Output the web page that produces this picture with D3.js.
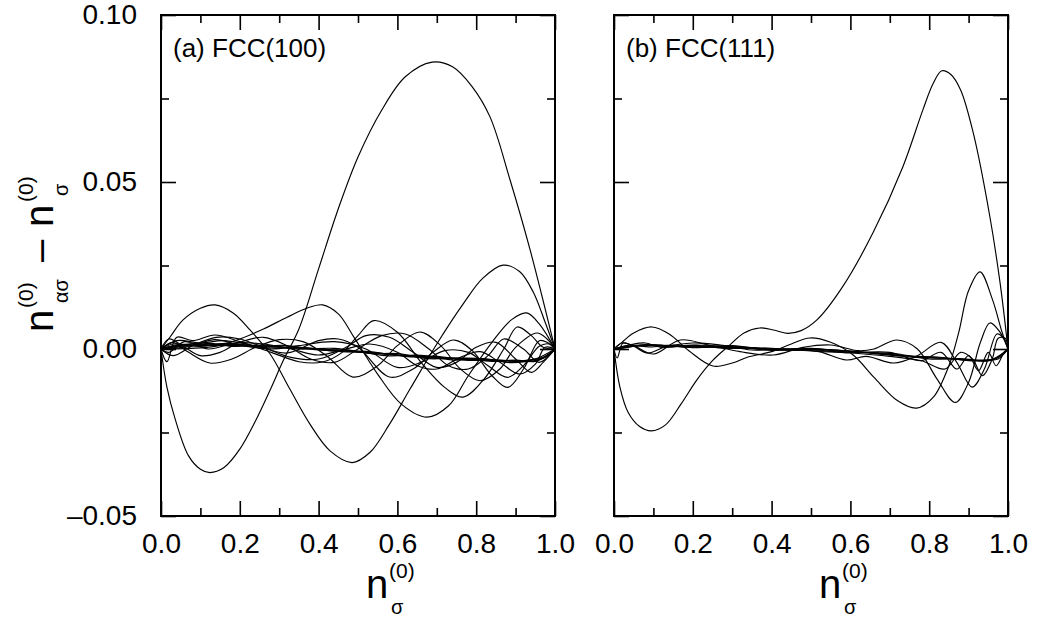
<!DOCTYPE html>
<html>
<head>
<meta charset="utf-8">
<script src="https://cdn.jsdelivr.net/npm/d3@7"></script>
<style>
body { margin: 0; background: #fff; }
svg { display: block; }
text { font-family: "Liberation Sans", Arial, sans-serif; fill: #000; }
</style>
</head>
<body>
<svg id="chart" width="1037" height="621"></svg>
<script>
// ticks
const xMajor = [0, 0.2, 0.4, 0.6, 0.8, 1.0];
const xMinor = [0.1, 0.3, 0.5, 0.7, 0.9];
const xTickLabels = ["0.0", "0.2", "0.4", "0.6", "0.8", "1.0"];
const yMajor = [-0.05, 0, 0.05, 0.10];
const yMinor = [-0.025, 0.025, 0.075];
const yTickLabels = ["\u20130.05", "0.00", "0.05", "0.10"];
const panelTitles = ["(a) FCC(100)", "(b) FCC(111)"];

// (a) FCC(100): [n, deviation] pairs
const a1 = [[0,0],[0.015,-0.0114],[0.036,-0.021],[0.07,-0.032],[0.1,-0.036],[0.124,-0.037],[0.16,-0.0355],[0.2,-0.03],[0.24,-0.0215],[0.28,-0.0115],[0.31,-0.0035],[0.35,0.006],[0.4,0.024],[0.45,0.042],[0.5,0.0575],[0.56,0.0715],[0.62,0.0815],[0.688,0.0859],[0.74,0.0845],[0.79,0.0785],[0.835,0.0695],[0.886,0.0506],[0.937,0.0296],[1,0]];
const a2 = [[0,0],[0.023,0.0036],[0.056,0.0087],[0.1,0.0122],[0.137,0.0132],[0.183,0.0108],[0.226,0.0057],[0.277,-0.0015],[0.327,-0.012],[0.378,-0.0225],[0.429,-0.0305],[0.485,-0.034],[0.53,-0.031],[0.58,-0.0225],[0.632,-0.012],[0.7,0.0015],[0.767,0.0135],[0.817,0.0212],[0.868,0.0251],[0.91,0.0232],[0.945,0.017],[0.975,0.008],[1,0]];
const a3 = [[0,0],[0.07,0.0002],[0.137,0.0008],[0.2,0.003],[0.26,0.006],[0.32,0.0095],[0.37,0.0122],[0.41,0.0132],[0.45,0.0105],[0.49,0.0035],[0.548,-0.0072],[0.61,-0.0165],[0.675,-0.0204],[0.73,-0.017],[0.78,-0.008],[0.84,0.002],[0.89,0.0088],[0.928,0.0108],[0.96,0.0075],[1,0]];
const a4 = [[0,0],[0.015,-0.0038],[0.04,0.0035],[0.08,0.0025],[0.137,0.0042],[0.2,0.0022],[0.28,-0.001],[0.35,-0.0038],[0.41,-0.0039],[0.46,-0.001],[0.5,0.004],[0.54,0.0085],[0.6,0.005],[0.66,-0.004],[0.72,-0.0115],[0.767,-0.0144],[0.82,-0.009],[0.87,0.0],[0.904,0.0066],[0.94,0.004],[0.97,0.0005],[1,0]];
const a5 = [[0,0],[0.03,0.002],[0.07,-0.001],[0.124,-0.0042],[0.18,-0.003],[0.24,0.0005],[0.3,0.0028],[0.36,0.0022],[0.42,-0.002],[0.487,-0.0084],[0.55,-0.005],[0.6,0.001],[0.657,0.0051],[0.71,0.001],[0.76,-0.006],[0.81,-0.0095],[0.86,-0.006],[0.9,0.0005],[0.954,0.0048],[0.98,0.003],[1,0]];
const a6 = [[0,0],[0.04,0.0025],[0.1,0.0018],[0.16,0.0025],[0.25,0.0006],[0.32,-0.0012],[0.4,0.0025],[0.45,0.003],[0.5,0.0005],[0.58,-0.0084],[0.64,-0.006],[0.69,-0.001],[0.742,0.0027],[0.79,-0.0005],[0.84,-0.008],[0.88,-0.0115],[0.92,-0.006],[0.96,0.0025],[0.98,0.002],[1,0]];
const a7 = [[0,0],[0.03,0.0015],[0.08,0.0012],[0.137,0.0028],[0.2,0.0012],[0.28,0.0],[0.35,0.001],[0.44,0.0022],[0.52,0.0],[0.6,-0.0055],[0.66,-0.004],[0.72,-0.0005],[0.78,-0.001],[0.83,-0.005],[0.88,-0.0085],[0.92,-0.005],[0.96,0.0008],[0.985,0.0015],[1,0]];
const a8 = [[0,0],[0.02,-0.001],[0.06,0.0022],[0.12,0.0],[0.19,0.0018],[0.26,0.0015],[0.33,0.0],[0.4,-0.0018],[0.47,0.0],[0.53,0.0015],[0.6,-0.001],[0.65,-0.005],[0.7,-0.006],[0.76,-0.0025],[0.81,-0.0008],[0.86,-0.004],[0.91,-0.0075],[0.95,-0.0045],[0.975,0.0005],[1,0]];
const a9 = [[0,0],[0.02,0.003],[0.06,0.0005],[0.1,-0.002],[0.15,-0.001],[0.2,0.002],[0.26,0.0035],[0.32,0.001],[0.38,-0.003],[0.44,-0.004],[0.5,0.0],[0.56,0.004],[0.62,0.0045],[0.68,0.0],[0.73,-0.005],[0.78,-0.006],[0.83,-0.002],[0.87,0.003],[0.92,0.0],[0.96,-0.004],[1,0]];
const a10 = [[0,0],[0.03,-0.002],[0.08,0.001],[0.14,0.0035],[0.2,0.003],[0.26,0.0005],[0.33,-0.0025],[0.4,-0.003],[0.47,0.0005],[0.52,0.004],[0.58,0.0035],[0.64,-0.001],[0.7,-0.0055],[0.75,-0.004],[0.8,0.0005],[0.85,0.002],[0.9,-0.003],[0.94,-0.007],[0.97,-0.004],[1,0]];
const a11 = [[0,0],[0.05,0.0008],[0.1,0.0012],[0.15,0.0013],[0.2,0.0011],[0.3,0.0006],[0.4,0.0],[0.5,-0.0009],[0.6,-0.0018],[0.7,-0.0025],[0.8,-0.0031],[0.9,-0.0036],[0.95,-0.0035],[0.98,-0.002],[1,0]];
const a12 = [[0,0],[0.04,0.0012],[0.1,0.0008],[0.16,0.0016],[0.24,0.0009],[0.32,0.0009],[0.42,-0.0004],[0.52,-0.0007],[0.62,-0.0021],[0.7,-0.0022],[0.78,-0.0034],[0.86,-0.0033],[0.93,-0.0038],[0.97,-0.0028],[1,0]];
const a13 = [[0,0],[0.03,0.0005],[0.08,0.0016],[0.14,0.001],[0.2,0.0014],[0.28,0.0003],[0.36,0.0004],[0.45,-0.0007],[0.55,-0.0012],[0.64,-0.0024],[0.72,-0.0028],[0.8,-0.0028],[0.88,-0.0039],[0.94,-0.0032],[0.98,-0.0022],[1,0]];
const a14 = [[0,0],[0.05,0.0004],[0.12,0.0017],[0.18,0.0008],[0.26,0.0012],[0.35,0.0],[0.44,0.0002],[0.53,-0.0013],[0.6,-0.0014],[0.68,-0.0029],[0.76,-0.0027],[0.84,-0.0037],[0.9,-0.0033],[0.95,-0.0037],[0.985,-0.0015],[1,0]];
const a15 = [[0,0],[0.06,0.0014],[0.11,0.0009],[0.17,0.0018],[0.23,0.0006],[0.31,0.0011],[0.39,-0.0002],[0.48,-0.0004],[0.57,-0.002],[0.66,-0.0019],[0.74,-0.0033],[0.82,-0.0029],[0.89,-0.0041],[0.95,-0.003],[1,0]];
const a16 = [[0,0],[0.05,0.0009],[0.13,0.0011],[0.22,0.0009],[0.34,0.0003],[0.46,-0.0005],[0.58,-0.0016],[0.7,-0.0027],[0.82,-0.0032],[0.92,-0.0035],[0.97,-0.0025],[1,0]];

// (b) FCC(111)
const b1 = [[0,0],[0.015,-0.0114],[0.036,-0.019],[0.065,-0.0232],[0.095,-0.0245],[0.13,-0.0228],[0.17,-0.0165],[0.21,-0.0093],[0.25,-0.0035],[0.29,0.0008],[0.33,0.0048],[0.37,0.0063],[0.405,0.0057],[0.44,0.0047],[0.475,0.0055],[0.515,0.0087],[0.58,0.0186],[0.657,0.0347],[0.733,0.0545],[0.784,0.0716],[0.81,0.0795],[0.832,0.0833],[0.855,0.0822],[0.88,0.0775],[0.912,0.0646],[0.954,0.0396],[0.98,0.0197],[1,0]];
const b2 = [[0,0],[0.02,0.002],[0.05,0.0048],[0.096,0.0066],[0.14,0.0045],[0.19,-0.0005],[0.251,-0.0051],[0.3,-0.0042],[0.34,-0.0024],[0.4,-0.0008],[0.45,0.0015],[0.497,0.0033],[0.55,0.002],[0.607,-0.0018],[0.66,-0.0085],[0.72,-0.0155],[0.768,-0.0177],[0.81,-0.0145],[0.85,-0.005],[0.875,0.005],[0.9,0.0175],[0.929,0.0231],[0.96,0.015],[0.985,0.005],[1,0]];
const b3 = [[0,0],[0.02,0.0018],[0.05,0.001],[0.1,-0.0015],[0.168,0.0027],[0.24,0.0012],[0.32,-0.0008],[0.404,-0.0018],[0.48,0.0005],[0.55,0.0012],[0.62,-0.0005],[0.66,0.0],[0.718,0.0027],[0.77,0.0],[0.82,-0.009],[0.866,-0.016],[0.9,-0.01],[0.93,0.002],[0.954,0.0078],[0.98,0.005],[1,0]];
const b4 = [[0,0],[0.008,-0.0027],[0.023,0.0018],[0.05,0.0008],[0.086,-0.0012],[0.13,0.0006],[0.2,0.0018],[0.27,0.0012],[0.35,-0.0003],[0.44,0.0],[0.52,-0.0008],[0.59,-0.0033],[0.64,-0.0022],[0.71,-0.0042],[0.77,-0.002],[0.83,0.002],[0.87,-0.004],[0.909,-0.0114],[0.94,-0.006],[0.972,0.0045],[0.99,0.003],[1,0]];
const b5 = [[0,0],[0.04,0.0012],[0.079,0.0018],[0.12,0.0005],[0.2,0.0012],[0.3,0.0006],[0.4,0.0002],[0.5,-0.0006],[0.6,-0.0012],[0.7,-0.0022],[0.78,-0.0035],[0.84,-0.006],[0.88,-0.001],[0.91,-0.003],[0.935,-0.008],[0.96,-0.003],[0.975,0.0032],[0.993,0.0032],[1,0]];
const b6 = [[0,0],[0.03,0.0008],[0.1,0.0012],[0.2,0.0005],[0.3,0.001],[0.4,-0.0004],[0.5,0.0002],[0.6,-0.001],[0.7,-0.001],[0.78,-0.0035],[0.83,-0.001],[0.87,-0.006],[0.9,-0.002],[0.925,-0.0065],[0.95,-0.001],[0.97,-0.005],[0.99,-0.001],[1,0]];
const b7 = [[0,0],[0.05,0.0008],[0.1,0.001],[0.2,0.0008],[0.3,0.0004],[0.4,0.0],[0.5,-0.0002],[0.6,-0.0006],[0.7,-0.0016],[0.8,-0.0026],[0.9,-0.0032],[0.95,-0.0033],[0.975,-0.003],[1,0]];
const b8 = [[0,0],[0.04,0.0012],[0.09,0.0006],[0.15,0.0012],[0.22,0.0005],[0.3,0.0007],[0.38,-0.0002],[0.47,0.0001],[0.56,-0.0008],[0.66,-0.0012],[0.75,-0.0024],[0.84,-0.0027],[0.92,-0.0036],[0.97,-0.0028],[1,0]];
const b9 = [[0,0],[0.03,0.0004],[0.08,0.0013],[0.14,0.0007],[0.21,0.0011],[0.28,0.0002],[0.36,0.0002],[0.45,-0.0004],[0.54,-0.0002],[0.63,-0.001],[0.72,-0.0015],[0.8,-0.003],[0.88,-0.0029],[0.95,-0.0036],[0.98,-0.0022],[1,0]];
const b10 = [[0,0],[0.06,0.001],[0.12,0.0012],[0.2,0.0004],[0.3,0.0008],[0.42,-0.0003],[0.52,0.0],[0.62,-0.0009],[0.72,-0.002],[0.82,-0.0024],[0.9,-0.0034],[0.96,-0.0031],[1,0]];

const fcc100 = [a1, a2, a3, a4, a5, a6, a7, a8, a9, a10, a11, a12, a13, a14, a15, a16];
const fcc111 = [b1, b2, b3, b4, b5, b6, b7, b8, b9, b10];

const svg = d3.select("#chart");
const yTop = 15, yBottom = 516, panelW = 394;
const panelLeft = [161, 614];

const y = d3.scaleLinear().domain([-0.05, 0.10]).range([yBottom, yTop]);

function drawPanel(x0, curves, title, withLabels) {
    const x = d3.scaleLinear().domain([0, 1]).range([x0, x0 + panelW]);
    const g = svg.append("g");

    const line = d3.line()
        .x(d => x(d[0]))
        .y(d => y(d[1]))
        .curve(d3.curveCatmullRom.alpha(0.5));

    g.selectAll("path.curve")
        .data(curves)
        .enter().append("path")
        .attr("class", "curve")
        .attr("d", line)
        .attr("fill", "none")
        .attr("stroke", "#000")
        .attr("stroke-width", 1.15);

    // ticks point inward on all four sides
    const addAxis = (axis, tx, ty) => {
        const a = g.append("g").attr("transform", `translate(${tx},${ty})`).call(axis);
        a.select(".domain").remove();
        a.selectAll("line").attr("stroke", "#000").attr("stroke-width", 1.6);
        a.attr("font-family", null).attr("font-size", 28);
        return a;
    };
    addAxis(d3.axisBottom(x).tickValues(xMajor).tickSizeInner(-15).tickSizeOuter(0).tickPadding(17)
        .tickFormat((d, i) => xTickLabels[i]), 0, yBottom);
    addAxis(d3.axisBottom(x).tickValues(xMinor).tickSizeInner(-8).tickSizeOuter(0).tickFormat(""), 0, yBottom);
    addAxis(d3.axisTop(x).tickValues(xMajor).tickSizeInner(-15).tickSizeOuter(0).tickFormat(""), 0, yTop);
    addAxis(d3.axisTop(x).tickValues(xMinor).tickSizeInner(-8).tickSizeOuter(0).tickFormat(""), 0, yTop);
    addAxis(d3.axisLeft(y).tickValues(yMajor).tickSizeInner(-15).tickSizeOuter(0).tickPadding(24)
        .tickFormat((d, i) => withLabels ? yTickLabels[i] : ""), x0, 0);
    addAxis(d3.axisLeft(y).tickValues(yMinor).tickSizeInner(-8).tickSizeOuter(0).tickFormat(""), x0, 0);
    addAxis(d3.axisRight(y).tickValues(yMajor).tickSizeInner(-15).tickSizeOuter(0).tickFormat(""), x0 + panelW, 0);
    addAxis(d3.axisRight(y).tickValues(yMinor).tickSizeInner(-8).tickSizeOuter(0).tickFormat(""), x0 + panelW, 0);

    g.append("rect")
        .attr("x", x0).attr("y", yTop)
        .attr("width", panelW).attr("height", yBottom - yTop)
        .attr("fill", "none").attr("stroke", "#000").attr("stroke-width", 2);

    g.append("text")
        .attr("x", x0 + 12).attr("y", 57)
        .attr("font-size", 26)
        .text(title);

    // x axis label n^(0)_sigma
    const cx = x0 + panelW / 2;
    g.append("text").attr("x", cx + 8).attr("y", 598).attr("font-size", 40).text("n");
    g.append("text").attr("x", cx + 31).attr("y", 578).attr("font-size", 21).text("(0)");
    g.append("text").attr("x", cx + 33).attr("y", 614).attr("font-size", 20).text("\u03c3");
}

drawPanel(panelLeft[0], fcc100, panelTitles[0], true);
drawPanel(panelLeft[1], fcc111, panelTitles[1], false);

// y axis label, rotated
const yl = svg.append("g").attr("transform", "translate(53,332) rotate(-90)");
yl.append("text").attr("x", 0).attr("y", 0).attr("font-size", 40).text("n");
yl.append("text").attr("x", 24).attr("y", -20).attr("font-size", 21).text("(0)");
yl.append("text").attr("x", 29).attr("y", 15).attr("font-size", 20).text("\u03b1\u03c3");
yl.append("text").attr("x", 70).attr("y", 0).attr("font-size", 40).text("\u2013");
yl.append("text").attr("x", 105).attr("y", 0).attr("font-size", 40).text("n");
yl.append("text").attr("x", 130).attr("y", -20).attr("font-size", 21).text("(0)");
yl.append("text").attr("x", 136).attr("y", 15).attr("font-size", 20).text("\u03c3");
</script>
</body>
</html>
